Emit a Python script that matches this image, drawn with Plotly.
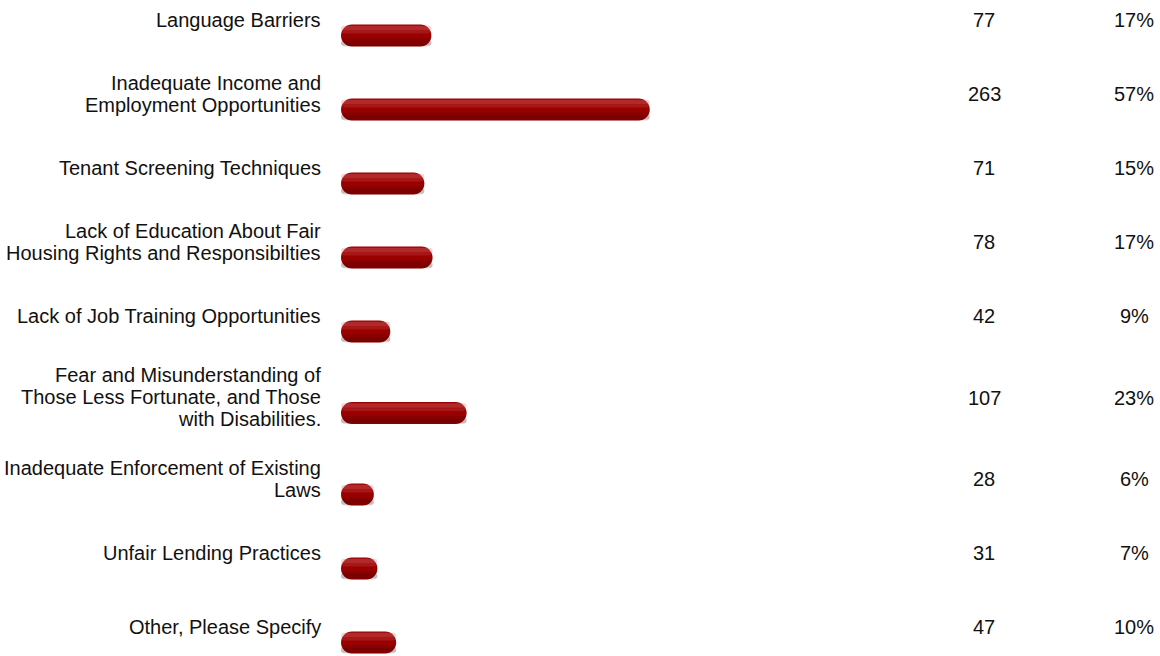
import plotly.graph_objects as go

categories = [
    "Language Barriers",
    "Inadequate Income and<br>Employment Opportunities",
    "Tenant Screening Techniques",
    "Lack of Education About Fair<br>Housing Rights and Responsibilties",
    "Lack of Job Training Opportunities",
    "Fear and Misunderstanding of<br>Those Less Fortunate, and Those<br>with Disabilities.",
    "Inadequate Enforcement of Existing<br>Laws",
    "Unfair Lending Practices",
    "Other, Please Specify",
]
counts = [77, 263, 71, 78, 42, 107, 28, 31, 47]
percents = ["17%", "57%", "15%", "17%", "9%", "23%", "6%", "7%", "10%"]

FONT = "Arial, Liberation Sans, Helvetica, sans-serif"
FS = 20
TXT = "#111111"
W, H = 1160, 656

# table-like layout: row height depends on number of label lines
ROW_H = {1: 74, 2: 74, 3: 89}
FIRST_ROW_CENTER = 35.5
n_lines = [c.count("<br>") + 1 for c in categories]
row_y = [FIRST_ROW_CENTER]
for a, b in zip(n_lines[:-1], n_lines[1:]):
    row_y.append(row_y[-1] + (ROW_H[a] + ROW_H[b]) / 2)

BAR_T = 22       # bar thickness (px == y units)
TEXT_UP = 15.5   # text sits above the bar centre
LINE_GAP = 22

zeros = [0] * len(counts)
fig = go.Figure()
# main pill
fig.add_trace(go.Bar(
    y=row_y, x=counts, base=zeros, orientation="h",
    width=BAR_T,
    marker=dict(color="#990000", cornerradius=11, line=dict(width=0)),
    hoverinfo="skip",
))
# soft gradient bands (light top, dark bottom)
for off, wd, col, rad in [
    (-10, 8, "rgba(235,130,130,0.18)", 4),
    (-9.5, 4, "rgba(235,130,130,0.18)", 2),
    (3, 8, "rgba(40,0,0,0.14)", 4),
    (5.5, 4.5, "rgba(40,0,0,0.14)", 2),
]:
    fig.add_trace(go.Bar(
        y=row_y, x=counts, base=zeros, orientation="h",
        width=wd, offset=off,
        marker=dict(color=col, cornerradius=rad, line=dict(width=0)),
        hoverinfo="skip",
    ))

annotations = []
for cat, n, p, yc in zip(categories, counts, percents, row_y):
    lines = cat.split("<br>")
    k = len(lines)
    for i, line in enumerate(lines):
        annotations.append(dict(
            x=323 / W, xref="paper",
            y=yc - TEXT_UP - 0.5 + (i - (k - 1) / 2) * LINE_GAP, yref="y",
            text=line, showarrow=False, xanchor="right", yanchor="middle",
            font=dict(family=FONT, size=FS, color=TXT),
        ))
    annotations.append(dict(
        x=984 / W, xref="paper", y=yc - TEXT_UP, yref="y",
        text=str(n), showarrow=False, xanchor="center", yanchor="middle",
        font=dict(family=FONT, size=FS, color=TXT),
    ))
    annotations.append(dict(
        x=1134 / W, xref="paper", y=yc - TEXT_UP, yref="y",
        text=p, showarrow=False, xanchor="center", yanchor="middle",
        font=dict(family=FONT, size=FS, color=TXT),
    ))

fig.update_layout(
    width=W, height=H,
    margin=dict(l=0, r=0, t=0, b=0),
    paper_bgcolor="white", plot_bgcolor="white",
    showlegend=False,
    barmode="overlay",
    annotations=annotations,
    xaxis=dict(domain=[341 / W, 0.8], range=[0, 500], visible=False, fixedrange=True),
    yaxis=dict(domain=[0, 1], range=[H, 0], visible=False, fixedrange=True),
    font=dict(family=FONT, size=FS, color=TXT),
)

fig.write_html(
    "out.html",
    config={"displayModeBar": False},
    post_script="document.body.style.margin='0';document.body.style.overflow='hidden';",
)
